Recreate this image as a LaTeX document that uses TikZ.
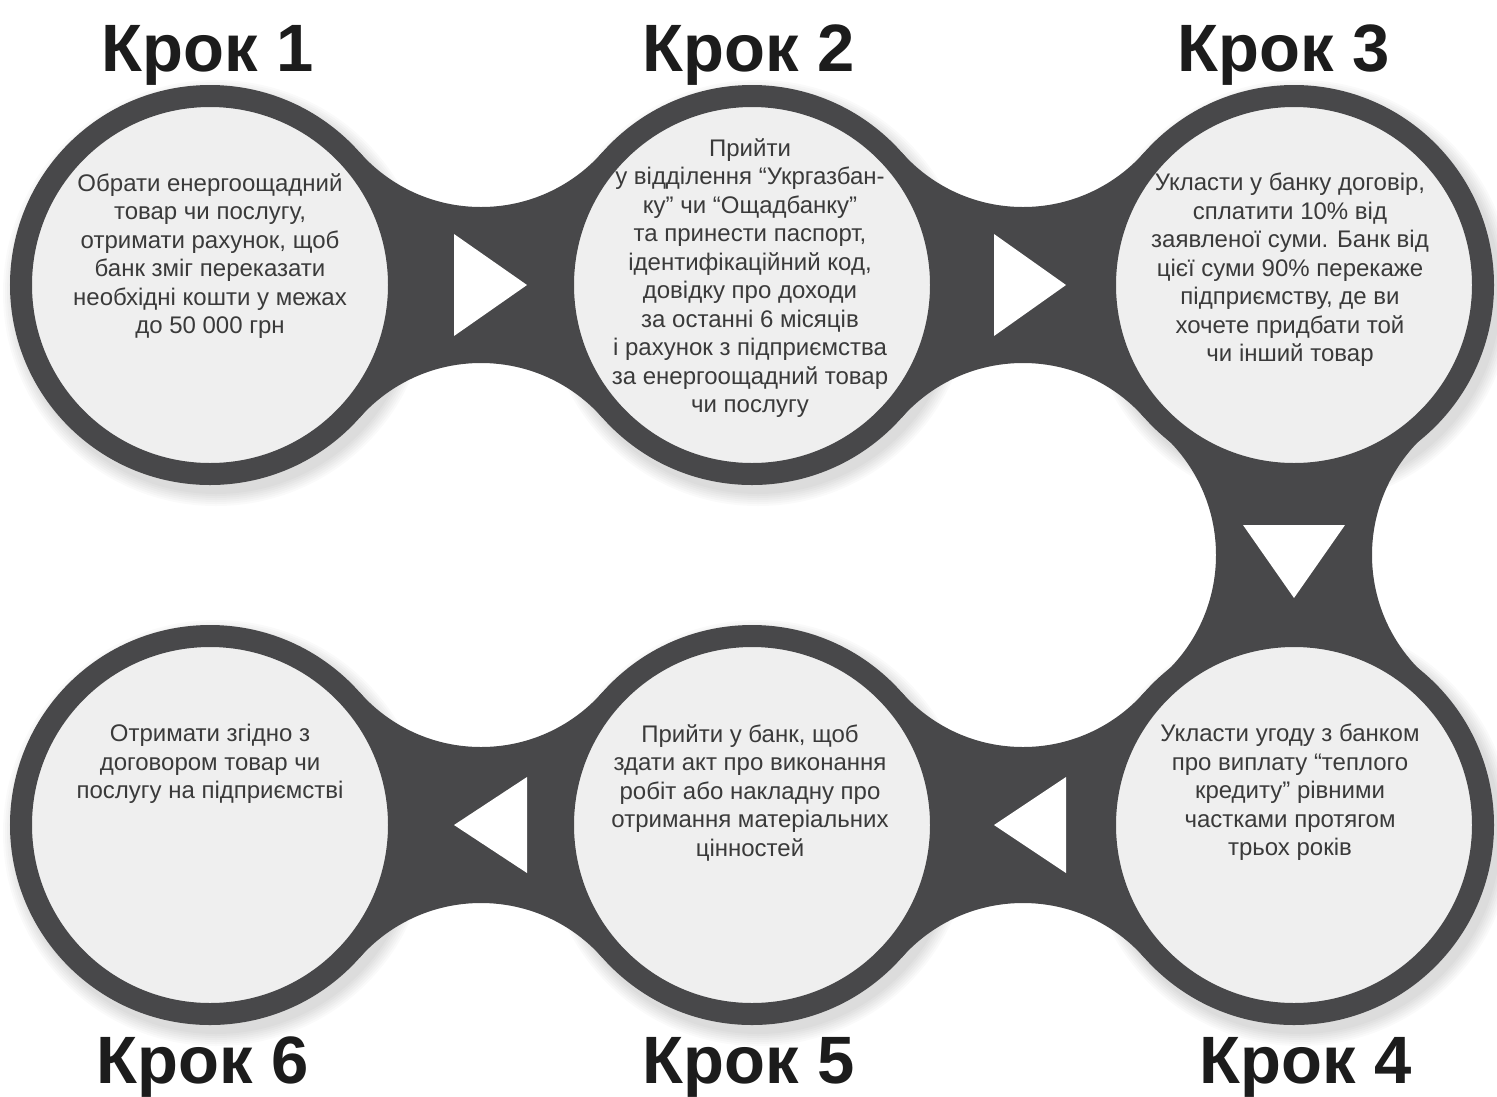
\documentclass[tikz,border=0pt]{standalone}
\usepackage{fontspec}
\setmainfont{Liberation Sans}
\usetikzlibrary{calc}
\pgfdeclarelayer{bg}
\pgfsetlayers{bg,main}
\definecolor{ringcol}{HTML}{48484A}
\definecolor{innerfill}{HTML}{EFEFEF}
\definecolor{textgray}{HTML}{3A3A3A}
\definecolor{headcol}{HTML}{1C1C1C}
\tikzset{
  stepcirc/.style={circle, minimum size=378pt, inner sep=0pt, fill=innerfill, draw=ringcol, line width=22pt},
  bodytext/.style={align=center, font=\fontsize{24}{28.5}\selectfont, text=textgray, inner sep=0pt, anchor=north},
  heading/.style={font=\fontsize{67}{72}\selectfont\bfseries, text=headcol, inner sep=0pt, anchor=base},
  arrowtri/.style={fill=white}
}
\newcommand\drawneck[2]{%
  \path ($(#1.center)!0.5!(#2.center)$) coordinate (m#1#2);
  \path ($(m#1#2)!240pt!90:(#2.center)$) coordinate (na#1#2);
  \path ($(m#1#2)!240pt!-90:(#2.center)$) coordinate (nb#1#2);
  \path ($(#1.center)!0.5525!(na#1#2)$) coordinate (pa#1#2);
  \path ($(#2.center)!0.5525!(na#1#2)$) coordinate (qa#1#2);
  \path ($(#1.center)!0.5525!(nb#1#2)$) coordinate (pb#1#2);
  \path ($(#2.center)!0.5525!(nb#1#2)$) coordinate (qb#1#2);
  \begin{scope}
    \clip (#1.center) -- (pa#1#2) -- (qa#1#2) -- (#2.center) -- (qb#1#2) -- (pb#1#2) -- cycle;
    \fill[ringcol, even odd rule] ($(m#1#2)+(-450,-450)$) rectangle ($(m#1#2)+(450,450)$)
      (na#1#2) circle[radius=162pt] (nb#1#2) circle[radius=162pt];
  \end{scope}
}
\begin{document}
\begin{tikzpicture}[x=1pt, y=-1pt]
\useasboundingbox (0,0) rectangle (1497,1096);

% circles
\node[stepcirc] (s1) at (210,285) {};
\node[stepcirc] (s2) at (752,285) {};
\node[stepcirc] (s3) at (1294,285) {};
\node[stepcirc] (s4) at (1294,825) {};
\node[stepcirc] (s5) at (752,825) {};
\node[stepcirc] (s6) at (210,825) {};

% background, soft shadows and connectors
\begin{pgfonlayer}{bg}
  \fill[white] (0,0) rectangle (1497,1096);
  \foreach \s in {s1,s2,s3,s4,s5,s6}{
    \foreach \r in {1,3,...,13}{
      \fill[black, opacity=0.018] ($(\s.center)+(6,8)$) circle[radius=200pt+\r pt];
    }
  }
  \drawneck{s1}{s2}
  \drawneck{s2}{s3}
  \drawneck{s3}{s4}
  \drawneck{s4}{s5}
  \drawneck{s5}{s6}
\end{pgfonlayer}

% arrow triangles
\fill[arrowtri] ($(ms1s2)+(-27,-51)$) -- ($(ms1s2)+(46,0)$) -- ($(ms1s2)+(-27,51)$) -- cycle;
\fill[arrowtri] ($(ms2s3)+(-29,-51)$) -- ($(ms2s3)+(43,0)$) -- ($(ms2s3)+(-29,51)$) -- cycle;
\fill[arrowtri] ($(ms3s4)+(-51,-30)$) -- ($(ms3s4)+(0,43)$) -- ($(ms3s4)+(51,-30)$) -- cycle;
\fill[arrowtri] ($(ms4s5)+(43,-48)$) -- ($(ms4s5)+(-29,0)$) -- ($(ms4s5)+(43,48)$) -- cycle;
\fill[arrowtri] ($(ms5s6)+(46,-48)$) -- ($(ms5s6)+(-27,0)$) -- ($(ms5s6)+(46,48)$) -- cycle;

% texts
\node[bodytext] (t1) at (210,173) {Обрати енергоощадний\\товар чи послугу,\\отримати рахунок, щоб\\банк зміг переказати\\необхідні кошти у межах\\до 50 000 грн};
\node[bodytext] (t2) at (750,138) {Прийти\\у відділення “Укргазбан-\\ку” чи “Ощадбанку”\\та принести паспорт,\\ідентифікаційний код,\\довідку про доходи\\за останні 6 місяців\\і рахунок з підприємства\\за енергоощадний товар\\чи послугу};
\node[bodytext] (t3) at (1290,173) {Укласти у банку договір,\\сплатити 10\% від\\заявленої суми. Банк від\\цієї суми 90\% перекаже\\підприємству, де ви\\хочете придбати той\\чи інший товар};
\node[bodytext] (t4) at (1290,724) {Укласти угоду з банком\\про виплату “теплого\\кредиту” рівними\\частками протягом\\трьох років};
\node[bodytext] (t5) at (750,724) {Прийти у банк, щоб\\здати акт про виконання\\робіт або накладну про\\отримання матеріальних\\цінностей};
\node[bodytext] (t6) at (210,724) {Отримати згідно з\\договором товар чи\\послугу на підприємстві};

% headings
\node[heading] (h1) at (208,71) {Крок 1};
\node[heading] (h2) at (749,71) {Крок 2};
\node[heading] (h3) at (1284,71) {Крок 3};
\node[heading] (h6) at (203,1083) {Крок 6};
\node[heading] (h5) at (749,1083) {Крок 5};
\node[heading] (h4) at (1306,1083) {Крок 4};
\end{tikzpicture}
\end{document}
